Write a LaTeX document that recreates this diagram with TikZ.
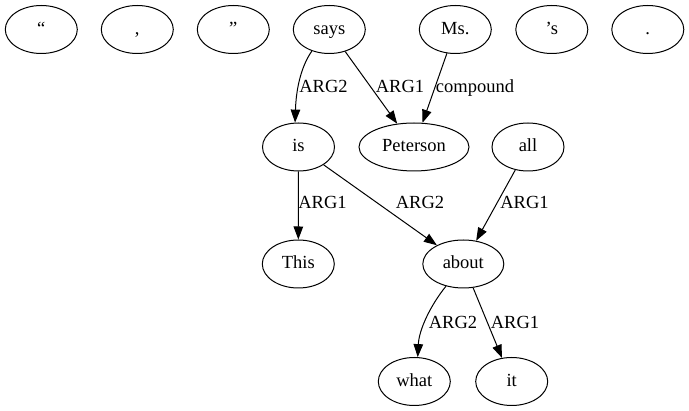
\documentclass[tikz,border=0pt]{standalone}
\usepackage{fontspec}
\setmainfont{Liberation Serif}
\usetikzlibrary{shapes.geometric,arrows.meta}
\begin{document}
\begin{tikzpicture}[x=1pt,y=-1pt,
  every node/.style={font=\fontsize{18.5pt}{22pt}\selectfont},
  tok/.style={ellipse,draw,line width=1pt,minimum width=72pt,minimum height=48pt,inner sep=0pt,text height=14pt,text depth=4pt},
  lab/.style={inner sep=0pt,anchor=base},
  arr/.style={line width=1pt,-{Triangle[length=13pt,width=9.5pt]}}]
\useasboundingbox (0,0) rectangle (689,411);
% row 1
\node[tok] (lq) at (41.3,29.5) {“};
\node[tok] (cm) at (137.3,29.5) {,};
\node[tok] (rq) at (233.3,29.5) {”};
\node[tok] (says) at (329.3,29.5) {says};
\node[tok] (ms) at (455.3,29.5) {Ms.};
\node[tok] (ps) at (551.8,29.5) {’s};
\node[tok] (dot) at (647.8,29.5) {.};
% row 2
\node[tok] (is) at (298.5,147) {is};
\node[tok,minimum width=110pt] (pet) at (414,147) {Peterson};
\node[tok] (all) at (528,147) {all};
% row 3
\node[tok] (this) at (298.3,264) {This};
\node[tok,minimum width=81pt] (about) at (463.3,264) {about};
% row 4
\node[tok] (what) at (414.3,381.5) {what};
\node[tok] (it) at (511.7,381.5) {it};
% edges
\draw[arr] (says.231) .. controls (300,68) and (296,92) .. (is.98);
\draw[arr] (says) -- (pet);
\draw[arr] (ms) -- (pet);
\draw[arr] (is) -- (this);
\draw[arr] (is) -- (about);
\draw[arr] (all) -- (about);
\draw[arr] (about.232) .. controls (430,306) and (419,330) .. (what.82);
\draw[arr] (about) -- (it);
% labels
\node[lab] (l1) at (323.5,93) {ARG2};
\node[lab] (l2) at (400,93) {ARG1};
\node[lab] (l3) at (475,93) {compound};
\node[lab] (l4) at (322.5,208.5) {ARG1};
\node[lab] (l5) at (420,208.5) {ARG2};
\node[lab] (l6) at (524.5,208.5) {ARG1};
\node[lab] (l7) at (453,328.5) {ARG2};
\node[lab] (l8) at (515,328.5) {ARG1};
\end{tikzpicture}
\end{document}
